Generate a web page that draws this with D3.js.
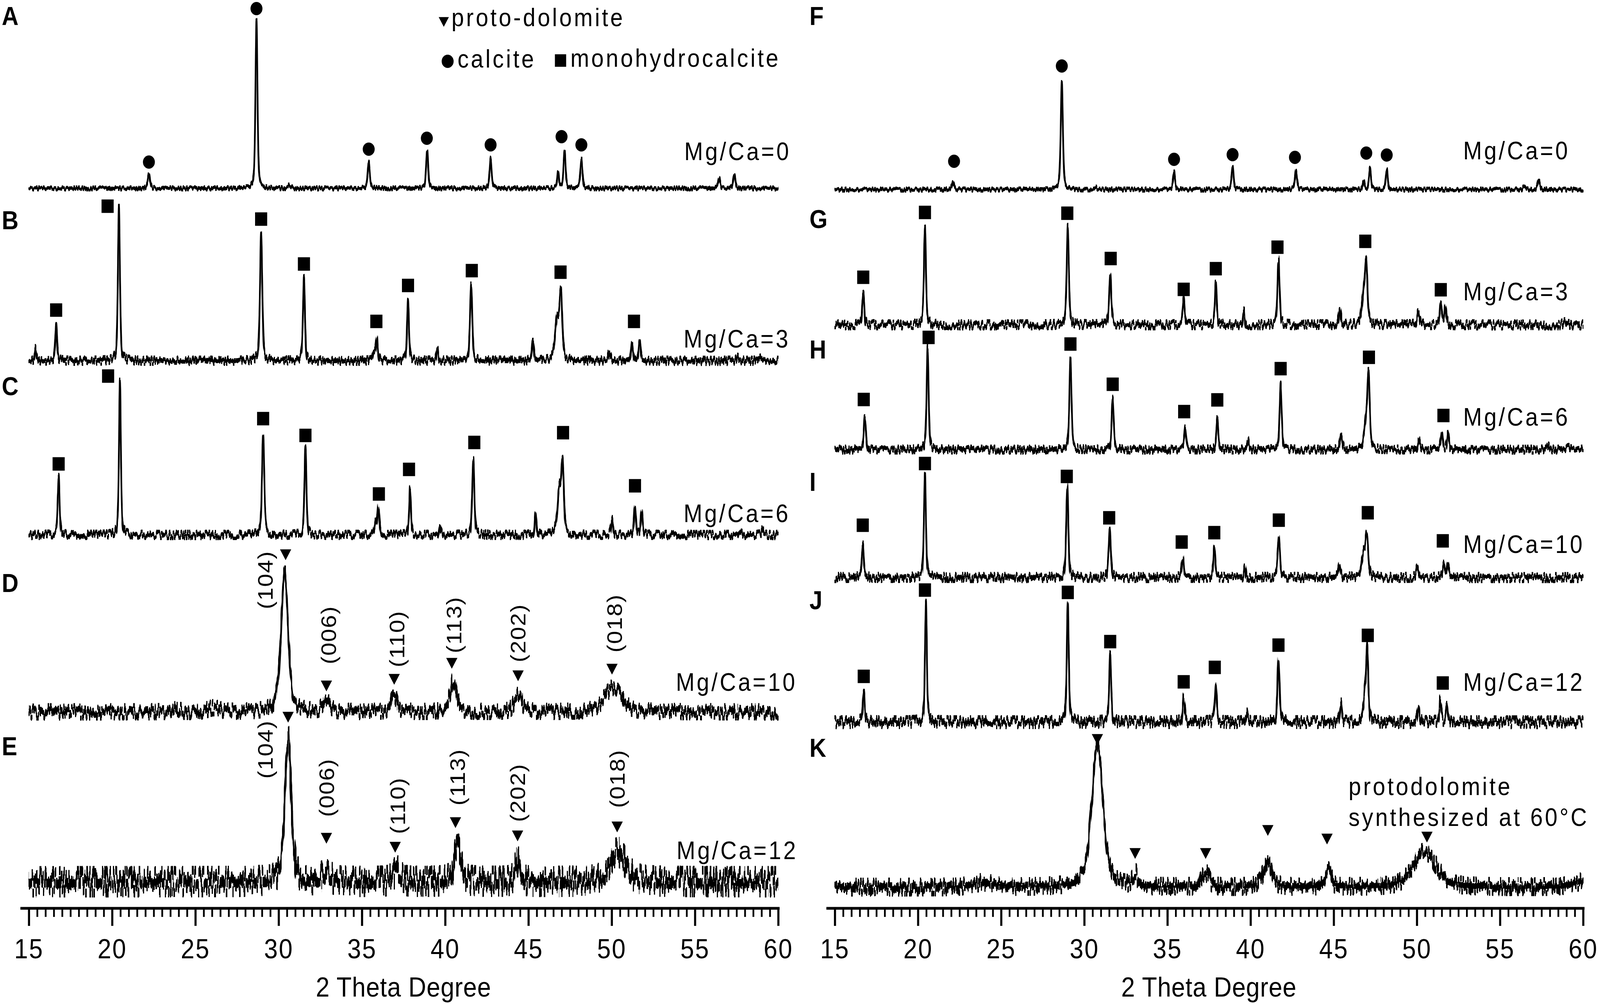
<!DOCTYPE html>
<html>
<head>
<meta charset="utf-8">
<script src="https://cdn.jsdelivr.net/npm/d3@7"></script>
<style>
  html, body { margin: 0; padding: 0; background: #fff; overflow: hidden; }
  svg { display: block; width: 100vw; height: 100vh; }
  text { font-family: "Liberation Sans", Arial, sans-serif; fill: #000; }
</style>
</head>
<body>
<svg id="chart" viewBox="0 0 4550 2571" preserveAspectRatio="none"></svg>
<script>

// ---- Data ----
// peaks: [2theta, intensity (a.u.), FWHM in degrees]
// markers: [2theta, level of the symbol (same a.u.)]

const xTicks = [15, 20, 25, 30, 35, 40, 45, 50, 55, 60];

const peaksA = [[22.21, 39, 0.15], [28.67, 432, 0.14], [30.66, 8, 0.2], [35.41, 68, 0.15], [38.92, 98, 0.14],
  [42.73, 77, 0.15], [46.78, 44, 0.12], [47.17, 97, 0.14], [48.18, 74, 0.15], [56.45, 26, 0.15], [57.36, 35, 0.15]];
const markA = [[22.21, 67], [28.67, 460], [35.41, 100], [38.9, 128], [42.73, 111], [46.99, 132], [48.18, 111]];

const peaksB = [[15.41, 30, 0.12], [16.64, 86, 0.14], [20.41, 396, 0.14], [28.95, 326, 0.16], [31.52, 212, 0.14],
  [35.72, 28, 0.15], [35.9, 56, 0.14], [37.77, 158, 0.13], [39.54, 30, 0.12], [41.56, 196, 0.16], [45.27, 52, 0.14],
  [46.72, 100, 0.28], [46.95, 165, 0.2], [49.87, 22, 0.2], [51.22, 48, 0.14], [51.68, 48, 0.14], [57.6, 10, 0.2], [58.9, 10, 0.2]];
const markB = [[16.64, 130], [19.73, 396], [28.95, 363], [31.52, 248], [35.87, 101], [37.77, 193], [41.6, 231], [46.93, 227], [51.34, 101]];

const peaksC = [[16.79, 152, 0.13], [20.47, 400, 0.13], [29.07, 261, 0.16], [31.61, 224, 0.14], [35.82, 32, 0.12],
  [35.99, 68, 0.14], [37.89, 116, 0.13], [39.67, 26, 0.12], [41.69, 189, 0.15], [45.43, 51, 0.14], [46.85, 110, 0.26],
  [47.05, 170, 0.18], [50.02, 38, 0.15], [51.4, 76, 0.13], [51.8, 60, 0.13], [57.67, 15, 0.15], [59.05, 15, 0.15]];
const markC = [[16.79, 182], [19.76, 407], [29.07, 298], [31.61, 255], [36.02, 105], [37.83, 168], [41.75, 237], [47.08, 262], [51.4, 126]];

const peaksD = [[23.77, 16, 0.4], [26.1, 10, 0.8], [30.36, 360, 0.5], [32.87, 30, 0.5], [36.94, 40, 0.45],
  [40.49, 82, 0.45], [44.38, 48, 0.5], [50.08, 62, 1.2]];
const markD = [[30.42, 407], [32.87, 71], [36.94, 88], [40.4, 129], [44.38, 97], [50.02, 114]];
const planesD = [["(104)", 29.19, 338], ["(006)", 33.0, 197], ["(110)", 37.1, 187], ["(113)", 40.53, 223], ["(202)", 44.38, 202], ["(018)", 50.17, 227]];

const peaksE = [[30.57, 365, 0.45], [32.87, 28, 0.5], [37.1, 28, 0.5], [40.74, 94, 0.45], [44.35, 52, 0.35], [50.39, 76, 1.1]];
const markE = [[30.57, 426], [32.87, 116], [37.0, 93], [40.62, 156], [44.35, 122], [50.33, 145]];
const planesE = [["(104)", 29.19, 339], ["(006)", 32.87, 241], ["(110)", 37.16, 195], ["(113)", 40.74, 268], ["(202)", 44.35, 228], ["(018)", 50.33, 264]];

const peaksF = [[22.11, 20, 0.15], [28.65, 276, 0.15], [30.7, 5, 0.2], [35.4, 44, 0.14], [38.92, 56, 0.14],
  [42.73, 48, 0.15], [46.8, 22, 0.12], [47.18, 53, 0.14], [48.19, 51, 0.14], [56.47, 8, 0.15], [57.33, 25, 0.15]];
const markF = [[22.17, 72], [28.65, 316], [35.4, 77], [38.92, 89], [42.67, 82], [46.96, 93], [48.19, 88]];

const peaksG = [[16.71, 78, 0.14], [20.42, 252, 0.14], [29.01, 252, 0.15], [31.56, 135, 0.15], [35.98, 65, 0.15],
  [37.91, 112, 0.13], [39.6, 33, 0.12], [41.68, 166, 0.15], [45.37, 39, 0.15], [46.8, 72, 0.26], [46.96, 142, 0.18],
  [50.09, 29, 0.2], [51.44, 58, 0.14], [51.72, 46, 0.14], [58.9, 10, 0.2]];
const markG = [[16.71, 122], [20.42, 288], [28.98, 286], [31.59, 170], [35.98, 91], [37.91, 144], [41.62, 199], [46.9, 214], [51.44, 90]];

const peaksH = [[16.8, 84, 0.14], [20.58, 258, 0.14], [29.17, 232, 0.15], [31.71, 130, 0.14], [36.07, 58, 0.15],
  [38.0, 80, 0.13], [39.84, 24, 0.12], [41.81, 164, 0.15], [45.45, 38, 0.16], [46.95, 64, 0.26], [47.1, 172, 0.17],
  [50.12, 24, 0.15], [51.5, 45, 0.14], [51.87, 39, 0.14], [57.85, 11, 0.2], [59.08, 8, 0.2]];
const markH = [[16.74, 128], [20.64, 287], [29.17, 270], [31.71, 167], [36.01, 97], [38.0, 127], [41.81, 207], [47.12, 236], [51.6, 87]];

const peaksI = [[16.68, 86, 0.14], [20.42, 264, 0.14], [28.98, 229, 0.15], [31.53, 120, 0.15], [35.92, 52, 0.15],
  [37.82, 78, 0.13], [39.66, 23, 0.12], [41.7, 110, 0.16], [45.34, 38, 0.15], [46.8, 58, 0.26], [47.0, 98, 0.2],
  [50.03, 32, 0.15], [51.62, 38, 0.15], [51.87, 33, 0.14]];
const markI = [[16.68, 134], [20.42, 292], [28.95, 259], [31.5, 153], [35.86, 91], [37.82, 115], [41.7, 147], [47.05, 166], [51.56, 94]];

const peaksJ = [[16.74, 78, 0.14], [20.48, 308, 0.13], [29.01, 302, 0.14], [31.56, 176, 0.14], [35.98, 60, 0.15],
  [37.91, 104, 0.13], [39.75, 25, 0.12], [41.68, 166, 0.15], [45.43, 46, 0.14], [46.88, 64, 0.22], [47.02, 172, 0.15],
  [50.09, 35, 0.15], [51.41, 55, 0.14], [51.8, 43, 0.14]];
const markJ = [[16.74, 117], [20.42, 338], [29.01, 332], [31.56, 206], [35.98, 103], [37.85, 140], [41.68, 197], [47.05, 222], [51.56, 100]];

const peaksK = [[23.95, 12, 1.5], [30.79, 368, 0.8], [33.06, 34, 0.3], [37.3, 36, 0.5], [41.04, 68, 0.6],
  [44.66, 52, 0.4], [50.49, 92, 1.6], [60.5, 20, 2.0]];
const markK = [[30.79, 383], [33.06, 91], [37.3, 91], [41.04, 150], [44.6, 128], [50.61, 133]];

const legendItems = [["tri", "proto-dolomite"], ["circle", "calcite"], ["square", "monohydrocalcite"]];
const noteK = ["protodolomite", "synthesized at 60°C"];

// ---- Table the drawing code walks over ----
const samples = [
  {id: "A", peaks: peaksA, marks: markA, phase: "circle", tag: "Mg/Ca=0"},
  {id: "B", peaks: peaksB, marks: markB, phase: "square", tag: "Mg/Ca=3"},
  {id: "C", peaks: peaksC, marks: markC, phase: "square", tag: "Mg/Ca=6"},
  {id: "D", peaks: peaksD, marks: markD, phase: "tri", tag: "Mg/Ca=10", planes: planesD},
  {id: "E", peaks: peaksE, marks: markE, phase: "tri", tag: "Mg/Ca=12", planes: planesE},
  {id: "F", peaks: peaksF, marks: markF, phase: "circle", tag: "Mg/Ca=0"},
  {id: "G", peaks: peaksG, marks: markG, phase: "square", tag: "Mg/Ca=3"},
  {id: "H", peaks: peaksH, marks: markH, phase: "square", tag: "Mg/Ca=6"},
  {id: "I", peaks: peaksI, marks: markI, phase: "square", tag: "Mg/Ca=10"},
  {id: "J", peaks: peaksJ, marks: markJ, phase: "square", tag: "Mg/Ca=12"},
  {id: "K", peaks: peaksK, marks: markK, phase: "tri", tag: null},
];

// layout per panel (pixels)
const layout = {
  A: {side: 0, base: 482,  letterY: 64,   tagX: 1946, tagY: 410,  noise: 9},
  B: {side: 0, base: 924,  letterY: 587,  tagX: 1944, tagY: 890,  noise: 18},
  C: {side: 0, base: 1370, letterY: 1012, tagX: 1944, tagY: 1337, noise: 18},
  D: {side: 0, base: 1823, letterY: 1516, tagX: 1922, tagY: 1769, noise: 32},
  E: {side: 0, base: 2258, letterY: 1934, tagX: 1924, tagY: 2200, noise: 58},
  F: {side: 1, base: 485,  letterY: 64,   tagX: 4161, tagY: 408,  noise: 9},
  G: {side: 1, base: 832,  letterY: 584,  tagX: 4161, tagY: 769,  noise: 20},
  H: {side: 1, base: 1151, letterY: 918,  tagX: 4161, tagY: 1090, noise: 17},
  I: {side: 1, base: 1479, letterY: 1257, tagX: 4161, tagY: 1416, noise: 20},
  J: {side: 1, base: 1849, letterY: 1560, tagX: 4161, tagY: 1769, noise: 25},
  K: {side: 1, base: 2272, letterY: 1938, noise: 34},
};

const axisY = 2326;
const xScales = [
  d3.scaleLinear().domain([15, 60]).range([82, 2213]),
  d3.scaleLinear().domain([15, 60]).range([2374, 4502]),
];
const letterX = [5, 2302];

const svg = d3.select("#chart");
const defs = svg.append("defs");

// symbol generators
const symbols = {
  circle: d3.symbol(d3.symbolCircle, 908),
  square: d3.symbol(d3.symbolSquare, 1190),
  tri: d3.symbol(d3.symbolTriangle, 443),
};
const symTransform = (kind, x, y) => `translate(${x},${y})` + (kind === "tri" ? " rotate(180)" : "");

// pseudo-Voigt line shape for one reflection
function profile(t, p) {
  const u = (t - p[0]) / (p[2] / 2);
  return p[1] * (0.5 / (1 + u * u) + 0.5 * Math.exp(-Math.LN2 * u * u));
}

const grid = d3.range(15, 60.0001, 0.01);

samples.forEach((s, i) => {
  const L = layout[s.id];
  const x = xScales[L.side];
  const y = d3.scaleLinear().domain([0, 100]).range([L.base, L.base - 100]);
  const g = svg.append("g").attr("class", "panel-" + s.id);

  // measurement roughness as an svg filter on the trace
  const f = defs.append("filter")
    .attr("id", "rough-" + s.id)
    .attr("filterUnits", "userSpaceOnUse")
    .attr("x", x.range()[0] - 30).attr("y", L.base - 520)
    .attr("width", x.range()[1] - x.range()[0] + 60).attr("height", 600)
    .attr("color-interpolation-filters", "sRGB");
  f.append("feTurbulence")
    .attr("type", "fractalNoise").attr("baseFrequency", "0.3 0.015")
    .attr("numOctaves", 1).attr("seed", i + 3).attr("result", "t");
  f.append("feColorMatrix").attr("in", "t").attr("type", "matrix")
    .attr("values", "0 0 0 0 0.5  1 0 0 0 0  0 0 0 0 0  0 0 0 0 1").attr("result", "m");
  const ct = f.append("feComponentTransfer").attr("in", "m").attr("result", "m2");
  ct.append("feFuncG").attr("type", "linear").attr("slope", 3).attr("intercept", -1);
  f.append("feDisplacementMap")
    .attr("in", "SourceGraphic").attr("in2", "m2")
    .attr("scale", L.noise)
    .attr("xChannelSelector", "R").attr("yChannelSelector", "G")
    .attr("result", "d");
  f.append("feMorphology")
    .attr("in", "d").attr("operator", "dilate")
    .attr("radius", `1 ${Math.max(1, Math.round(L.noise / 6))}`);

  const pts = grid.map(t => [t, d3.sum(s.peaks, p => profile(t, p))]);
  const line = d3.line().x(d => x(d[0])).y(d => y(d[1]));

  g.append("path")
    .datum(pts)
    .attr("d", line)
    .attr("fill", "none")
    .attr("stroke", "#000")
    .attr("stroke-width", 2.6)
    .attr("stroke-linejoin", "round")
    .attr("filter", `url(#rough-${s.id})`);

  g.selectAll("path.mark")
    .data(s.marks)
    .join("path")
    .attr("class", "mark")
    .attr("transform", d => symTransform(s.phase, x(d[0]), y(d[1])))
    .attr("d", symbols[s.phase])
    .attr("fill", "#000");

  if (s.planes) {
    g.selectAll("text.plane")
      .data(s.planes)
      .join("text")
      .attr("class", "plane")
      .attr("transform", d => `translate(${x(d[1])},${y(d[2])}) rotate(-90)`)
      .attr("text-anchor", "middle")
      .attr("dominant-baseline", "central")
      .attr("font-size", 60)
      .style("letter-spacing", "2px")
      .text(d => d[0]);
  }

  g.append("text")
    .attr("x", letterX[L.side])
    .attr("y", L.letterY)
    .attr("font-size", 66)
    .attr("font-weight", "bold")
    .text(s.id);

  if (s.tag) {
    g.append("text")
      .attr("x", L.tagX)
      .attr("y", L.tagY)
      .attr("font-size", 64)
      .style("letter-spacing", "6px")
      .text(s.tag);
  }
});

// note in panel K
svg.append("g").selectAll("text")
  .data(noteK)
  .join("text")
  .attr("x", 3835)
  .attr("y", (d, i) => 2036 + i * 79)
  .attr("font-size", 64)
  .style("letter-spacing", "6px")
  .text(d => d);

// legend
const legendPos = [
  {sx: 1262, sy: 52, tx: 1284, ty: 67, size: 364},
  {sx: 1273, sy: 157, tx: 1301, ty: 173, size: 908},
  {sx: 1594, sy: 155, tx: 1622, ty: 171, size: 1024},
];
const lg = svg.append("g").attr("class", "legend");
legendItems.forEach((d, i) => {
  const p = legendPos[i];
  lg.append("path")
    .attr("transform", symTransform(d[0], p.sx, p.sy))
    .attr("d", d3.symbol(d[0] === "tri" ? d3.symbolTriangle : d[0] === "circle" ? d3.symbolCircle : d3.symbolSquare, p.size))
    .attr("fill", "#000");
  lg.append("text")
    .attr("x", p.tx).attr("y", p.ty)
    .attr("font-size", 64)
    .style("letter-spacing", "6px")
    .text(d[1]);
});

// x axes
xScales.forEach(x => {
  const ax = svg.append("g").attr("transform", `translate(0,${axisY})`);

  const minor = ax.append("g").call(
    d3.axisBottom(x).tickValues(d3.range(15, 60.01, 0.5)).tickSize(22).tickSizeOuter(0).tickFormat("")
  );
  minor.select(".domain").remove();
  minor.selectAll(".tick line").attr("stroke", "#000").attr("stroke-width", 5);

  const major = ax.append("g").call(
    d3.axisBottom(x).tickValues(xTicks).tickSize(45).tickSizeOuter(0).tickFormat(d3.format("d"))
  );
  major.select(".domain")
    .attr("d", `M${x.range()[0] - 24},0H${x.range()[1] + 4}`)
    .attr("stroke", "#000")
    .attr("stroke-width", 7);
  major.selectAll(".tick line").attr("stroke", "#000").attr("stroke-width", 6);
  major.selectAll(".tick text")
    .attr("y", 128).attr("dy", 0)
    .attr("font-size", 70)
    .attr("font-family", "Liberation Sans, Arial, sans-serif")
    .style("letter-spacing", "3px")
    .attr("fill", "#000");

  ax.append("text")
    .attr("x", (x.range()[0] + x.range()[1]) / 2)
    .attr("y", 226)
    .attr("text-anchor", "middle")
    .attr("font-size", 70)
    .style("letter-spacing", "1px")
    .text("2 Theta Degree");
});

</script>
</body>
</html>
